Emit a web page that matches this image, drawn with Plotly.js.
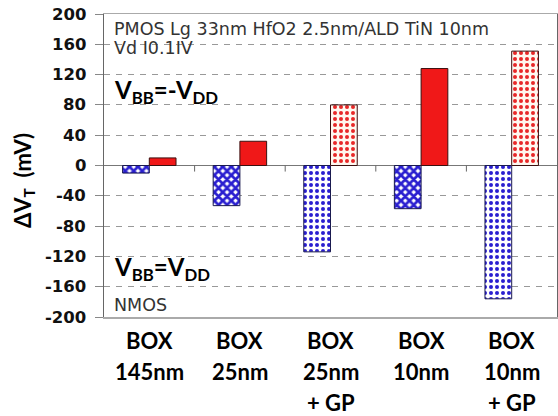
<!DOCTYPE html>
<html>
<head>
<meta charset="utf-8">
<script src="https://cdn.plot.ly/plotly-3.0.1.min.js"></script>
<style>html,body{margin:0;padding:0;background:#fff;}#chart{width:558px;height:416px;}</style>
</head>
<body>
<div id="chart"></div>
<script>
// Data
const categories = ["BOX<br>145nm", "BOX<br>25nm", "BOX<br>25nm<br>+ GP", "BOX<br>10nm", "BOX<br>10nm<br>+ GP"];
const nmosValues = [-10, -53, -114, -57, -176];   // V_BB = V_DD (blue)
const pmosValues = [10, 32, 80, 128, 151];        // V_BB = -V_DD (red)
const yTicks = [200, 160, 120, 80, 40, 0, -40, -80, -120, -160, -200];
const nmosPattern = ["x", "x", ".", "x", "."];
const pmosPattern = ["", "", ".", "", "."];

const xIdx = categories.map((c, i) => i);

const traces = [
  {
    type: "bar", x: xIdx, y: nmosValues, name: "NMOS",
    marker: {
      color: "#2a1fd0",
      line: {color: "#1a1a50", width: 1},
      pattern: {
        shape: nmosPattern,
        fgcolor: "#2a1fd0",
        bgcolor: "#ffffff",
        size: 6,
        solidity: nmosPattern.map(s => s === "x" ? 0.7 : 0.35),
        fillmode: "replace"
      }
    },
    hoverinfo: "skip"
  },
  {
    type: "bar", x: xIdx, y: pmosValues, name: "PMOS",
    marker: {
      color: "#f01818",
      line: {color: "#3a1010", width: 1},
      pattern: {
        shape: pmosPattern,
        fgcolor: "#e82828",
        bgcolor: "#fff8f0",
        size: 6,
        solidity: 0.35,
        fillmode: "replace"
      }
    },
    hoverinfo: "skip"
  }
];

const boundaryShapes = [0.5, 1.5, 2.5, 3.5].map(b => ({
  type: "line", xref: "x", yref: "y", x0: b, x1: b, y0: 0, y1: -8,
  line: {color: "#666", width: 1}
}));

// category labels, one annotation per line for the wider line spacing
const catAnnotations = [];
categories.forEach((c, i) => {
  c.split("<br>").forEach((line, k) => {
    catAnnotations.push({
      xref: "x", yref: "paper", x: i, y: 0, yshift: -23 - 31 * k,
      xanchor: "center", yanchor: "middle", showarrow: false,
      text: "<b>" + line + "</b>",
      font: {family: "Lato, sans-serif", size: 22, color: "#000"}
    });
  });
});

// y tick labels in heavy bold
const yTickAnnotations = yTicks.map(v => ({
  xref: "paper", yref: "y", x: 0, y: v, xshift: -16,
  xanchor: "right", yanchor: "middle", showarrow: false,
  text: "<b>" + v + "</b>",
  font: {family: "DejaVu Sans, sans-serif", size: 16.5, color: "#111"}
}));

const noteFont = {family: "DejaVu Sans, sans-serif", size: 17.5, color: "#333"};

const layout = {
  width: 558, height: 416,
  margin: {l: 104, r: 1, t: 14, b: 99},
  paper_bgcolor: "#ffffff", plot_bgcolor: "#ffffff",
  barmode: "group", bargap: 0.41, bargroupgap: 0,
  showlegend: false,
  font: {family: "Arial, Liberation Sans, sans-serif", color: "#222"},
  xaxis: {
    range: [-0.5, 4.5],
    tickmode: "array", tickvals: xIdx, showticklabels: false,
    ticks: "", showgrid: false, zeroline: false,
    showline: true, linecolor: "#aaa", linewidth: 1.5, mirror: true
  },
  yaxis: {
    range: [-200, 200],
    tickmode: "array", tickvals: yTicks, showticklabels: false,
    ticks: "outside", ticklen: 8, tickcolor: "#888", tickwidth: 1,
    showgrid: true, gridcolor: "#999", griddash: "6px,6px", gridwidth: 1,
    zeroline: true, zerolinecolor: "#777", zerolinewidth: 1.5,
    showline: true, linecolor: "#666", linewidth: 1.5, mirror: true
  },
  shapes: boundaryShapes,
  annotations: catAnnotations.concat(yTickAnnotations, [
    {xref: "paper", yref: "paper", x: 0.018, y: 0.95, xanchor: "left", yanchor: "middle",
     text: "PMOS Lg 33nm HfO2 2.5nm/ALD TiN 10nm", showarrow: false, font: noteFont},
    {xref: "paper", yref: "paper", x: 0.018, y: 0.888, xanchor: "left", yanchor: "middle",
     text: "Vd I0.1IV", showarrow: false, font: noteFont},
    {xref: "paper", yref: "paper", x: 0.018, y: 0.745, xanchor: "left", yanchor: "middle",
     text: "<b>V<sub>BB</sub>=-V<sub>DD</sub></b>", showarrow: false,
     font: {family: "Lato, sans-serif", size: 24, color: "#000"}},
    {xref: "paper", yref: "paper", x: 0.018, y: 0.16, xanchor: "left", yanchor: "middle",
     text: "<b>V<sub>BB</sub>=V<sub>DD</sub></b>", showarrow: false,
     font: {family: "Lato, sans-serif", size: 24, color: "#000"}},
    {xref: "paper", yref: "paper", x: 0.018, y: 0.04, xanchor: "left", yanchor: "middle",
     text: "NMOS", showarrow: false, font: noteFont},
    {xref: "paper", yref: "paper", x: -0.178, y: 0.45, xanchor: "center", yanchor: "middle",
     textangle: -90, text: "<b>ΔV<sub>T</sub>  (mV)</b>", showarrow: false,
     font: {family: "Lato, sans-serif", size: 22, color: "#000"}}
  ])
};

Plotly.newPlot("chart", traces, layout, {displayModeBar: false, staticPlot: true});
</script>
</body>
</html>
